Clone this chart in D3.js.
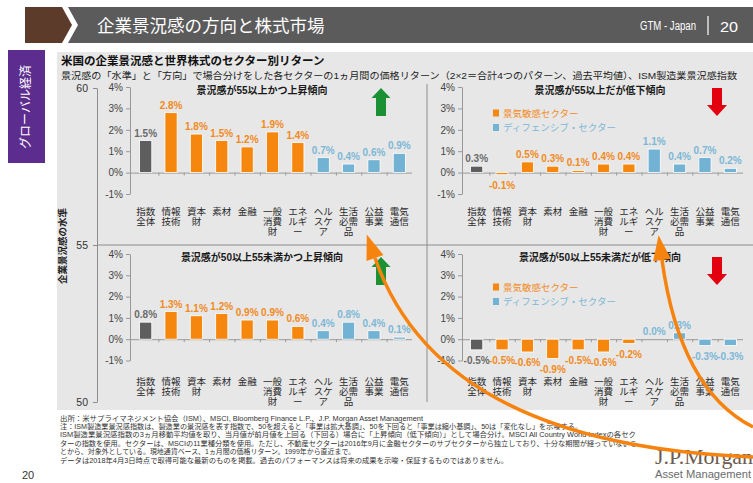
<!DOCTYPE html>
<html>
<head>
<meta charset="utf-8">
<script src="https://cdn.jsdelivr.net/npm/d3@7"></script>
<style>
  body { margin: 0; background: #fff; }
  svg { display: block; font-family: "Liberation Sans", "Noto Sans CJK JP", sans-serif; }
</style>
</head>
<body>
<div id="chart"></div>
<script>
// sectors (MSCI 11 sector split, real estate excluded)
const sectors = ["指数全体", "情報技術", "資本財", "素材", "金融", "一般消費財", "エネルギー", "ヘルスケア", "生活必需品", "公益事業", "電気通信"];
const sectorType = ["index", "cyc", "cyc", "cyc", "cyc", "cyc", "cyc", "def", "def", "def", "def"];

// average 1m returns (%) per ISM regime
const highRising  = [1.5, 2.8, 1.8, 1.5, 1.2, 1.9, 1.4, 0.7, 0.4, 0.6, 0.9];
const highFalling = [0.3, -0.1, 0.5, 0.3, 0.1, 0.4, 0.4, 1.1, 0.4, 0.7, 0.2];
const midRising   = [0.8, 1.3, 1.1, 1.2, 0.9, 0.9, 0.6, 0.4, 0.8, 0.4, 0.1];
const midFalling  = [-0.5, -0.5, -0.6, -0.9, -0.5, -0.6, -0.2, 0.0, 0.3, -0.3, -0.3];

const panelTitles = ["景況感が55以上かつ上昇傾向", "景況感が55以上だが低下傾向", "景況感が50以上55未満かつ上昇傾向", "景況感が50以上55未満だが低下傾向"];
const returnTicks = [-1, 0, 1, 2, 3, 4];
const levelTicks = [50, 55, 60];
const legendLabels = ["景気敏感セクター", "ディフェンシブ・セクター"];

const footNotes = [
  "出所：米サプライマネジメント協会（ISM）、MSCI, Bloomberg Finance L.P.、J.P. Morgan Asset Management",
  "注：ISM製造業景況感指数は、製造業の景況感を表す指数で、50を超えると「事業は拡大基調」、50を下回ると「事業は縮小基調」、50は「変化なし」を示唆する。",
  "ISM製造業景況感指数の3ヵ月移動平均値を取り、当月値が前月値を上回る（下回る）場合に「上昇傾向（低下傾向）」として場合分け。MSCI All Country World Indexの各セク",
  "ターの指数を使用。セクターは、MSCIの11業種分類を使用。ただし、不動産セクターは2016年9月に金融セクターのサブセクターから独立しており、十分な期間が経っていないこ",
  "とから、対象外としている。現地通貨ベース、1ヵ月間の価格リターン。1999年から直近まで。",
  "データは2018年4月3日時点で取得可能な最新のものを掲載。過去のパフォーマンスは将来の成果を示唆・保証するものではありません。"
];

const W = 753, H = 483;
const barColor = {index: "#5e5e5e", cyc: "#f5870e", def: "#72b2d3"};
const labelColor = {index: "#6a6a6a", cyc: "#f28a1c", def: "#7cb7d6"};

const svg = d3.select("#chart").append("svg")
    .attr("width", W)
    .attr("height", H);

// header bar
svg.append("path")
    .attr("d", "M25,7 L62,7 L72,25 L62,43 L25,43 Z")
    .attr("fill", "#5d3b2b");
svg.append("path")
    .attr("d", "M68,7 L753,7 L753,43 L68,43 L78,25 Z")
    .attr("fill", "#5b5b5b");
svg.append("text")
    .attr("x", 97).attr("y", 32)
    .attr("font-size", 17.5)
    .attr("fill", "#fff")
    .text("企業景況感の方向と株式市場");
svg.append("text")
    .attr("x", 640).attr("y", 30)
    .attr("font-size", 12)
    .attr("fill", "#fff")
    .attr("textLength", 56).attr("lengthAdjust", "spacingAndGlyphs")
    .text("GTM - Japan");
svg.append("line")
    .attr("x1", 708).attr("x2", 708).attr("y1", 16).attr("y2", 35)
    .attr("stroke", "#fff").attr("stroke-width", 1.2);
svg.append("text")
    .attr("x", 720).attr("y", 31.5)
    .attr("font-size", 15.5)
    .attr("fill", "#fff")
    .attr("textLength", 18).attr("lengthAdjust", "spacingAndGlyphs")
    .text("20");

// side tab
svg.append("rect")
    .attr("x", 8).attr("y", 50).attr("width", 37).attr("height", 113)
    .attr("fill", "#5c2d8f");
svg.append("text")
    .attr("transform", "translate(30,107) rotate(-90)")
    .attr("text-anchor", "middle")
    .attr("font-size", 12)
    .attr("fill", "#fff")
    .text("グローバル経済");

// chart background
svg.append("rect")
    .attr("x", 57).attr("y", 52).attr("width", W - 57).attr("height", 358)
    .attr("fill", "#e7e7e7");

svg.append("text")
    .attr("x", 61).attr("y", 65)
    .attr("font-size", 11.5).attr("font-weight", "bold")
    .attr("fill", "#111")
    .text("米国の企業景況感と世界株式のセクター別リターン");
svg.append("text")
    .attr("x", 61).attr("y", 79)
    .attr("font-size", 9.5)
    .attr("fill", "#222")
    .attr("textLength", 676).attr("lengthAdjust", "spacingAndGlyphs")
    .text("景況感の「水準」と「方向」で場合分けをした各セクターの1ヵ月間の価格リターン（2×2＝合計4つのパターン、過去平均値）、ISM製造業景況感指数");

// outer ISM level axis
const level = d3.scaleLinear().domain([50, 60]).range([402, 88]);
const levelAxis = svg.append("g")
    .attr("transform", "translate(97,0)")
    .call(d3.axisLeft(level).tickValues(levelTicks).tickSize(4).tickPadding(5).tickSizeOuter(0));
levelAxis.select(".domain").attr("stroke", "#8c8c8c");
levelAxis.selectAll(".tick line").attr("stroke", "#8c8c8c");
levelAxis.selectAll(".tick text").attr("font-size", 10.5).attr("fill", "#333").attr("font-family", null);

svg.append("text")
    .attr("transform", "translate(66,246) rotate(-90)")
    .attr("text-anchor", "middle")
    .attr("font-size", 9.5).attr("font-weight", "bold")
    .attr("fill", "#222")
    .text("企業景況感の水準");

// quadrant dividers
svg.append("line")
    .attr("x1", 97).attr("x2", W).attr("y1", level(55)).attr("y2", level(55))
    .attr("stroke", "#8c8c8c");
svg.append("line")
    .attr("x1", 427).attr("x2", 427).attr("y1", 84).attr("y2", 402)
    .attr("stroke", "#8c8c8c");

const panels = [
  {values: highRising,  title: panelTitles[0], axisX: 130, band: [133, 412], yr: [194, 87],    titleX: 262, catY: 215, arrow: "up",   arrowX: 381, arrowY: 88,  legend: false},
  {values: highFalling, title: panelTitles[1], axisX: 462, band: [464, 743], yr: [194, 87],    titleX: 600, catY: 215, arrow: "down", arrowX: 717, arrowY: 88,  legend: true, legendY: 113},
  {values: midRising,   title: panelTitles[2], axisX: 130, band: [133, 412], yr: [360.5, 254], titleX: 262, catY: 385, arrow: "up",   arrowX: 381, arrowY: 257, legend: false},
  {values: midFalling,  title: panelTitles[3], axisX: 462, band: [464, 743], yr: [360.5, 254], titleX: 600, catY: 385, arrow: "down", arrowX: 717, arrowY: 257, legend: true, legendY: 287}
];

function blockArrow(cx, top, dir) {
  if (dir === "up") {
    return `M${cx},${top} L${cx + 9.5},${top + 10} L${cx + 5},${top + 10} L${cx + 5},${top + 28} L${cx - 5},${top + 28} L${cx - 5},${top + 10} L${cx - 9.5},${top + 10} Z`;
  }
  return `M${cx - 5},${top} L${cx + 5},${top} L${cx + 5},${top + 17} L${cx + 10},${top + 17} L${cx},${top + 28} L${cx - 10},${top + 17} L${cx - 5},${top + 17} Z`;
}

panels.forEach(p => {
  const g = svg.append("g");
  const data = sectors.map((s, i) => ({name: s, type: sectorType[i], value: p.values[i]}));

  const x = d3.scaleBand().domain(sectors).range(p.band).paddingInner(0.52).paddingOuter(0.26);
  const y = d3.scaleLinear().domain([-1, 4]).range(p.yr);

  // y axis
  const ya = g.append("g")
      .attr("transform", `translate(${p.axisX},0)`)
      .call(d3.axisLeft(y).tickValues(returnTicks).tickFormat(d => d + "%").tickSize(4).tickPadding(3).tickSizeOuter(0));
  ya.select(".domain").attr("stroke", "#999");
  ya.selectAll(".tick line").attr("stroke", "#999");
  ya.selectAll(".tick text").attr("font-size", 10).attr("fill", "#444").attr("font-family", null);

  // zero line with small ticks between categories
  const edge = d3.scaleLinear().domain([0, sectors.length]).range(p.band);
  const za = g.append("g")
      .attr("transform", `translate(0,${y(0)})`)
      .call(d3.axisBottom(edge).tickValues(d3.range(1, sectors.length)).tickFormat("").tickSize(3).tickSizeOuter(0));
  za.select(".domain").attr("stroke", "#999").attr("d", `M${p.axisX},0.5H${p.band[1]}`);
  za.selectAll(".tick line").attr("stroke", "#999");

  // bars
  g.selectAll("rect.bar")
    .data(data)
    .join("rect")
      .attr("class", "bar")
      .attr("x", d => x(d.name))
      .attr("width", x.bandwidth())
      .attr("y", d => y(Math.max(0, d.value)))
      .attr("height", d => Math.abs(y(d.value) - y(0)))
      .attr("fill", d => barColor[d.type])
      .attr("stroke", "#fff")
      .attr("stroke-width", 0.8);

  // value labels
  g.selectAll("text.val")
    .data(data)
    .join("text")
      .attr("class", "val")
      .attr("x", d => x(d.name) + x.bandwidth() / 2)
      .attr("y", d => d.value < 0 ? y(d.value) + 14.5 : y(d.value) - 4)
      .attr("text-anchor", "middle")
      .attr("font-size", 10).attr("font-weight", "bold")
      .attr("fill", d => labelColor[d.type])
      .text(d => d.value.toFixed(1) + "%");

  // category labels, two characters per line
  const cat = g.selectAll("text.cat")
    .data(data)
    .join("text")
      .attr("class", "cat")
      .attr("x", d => x(d.name) + x.bandwidth() / 2)
      .attr("y", p.catY)
      .attr("text-anchor", "middle")
      .attr("font-size", 9.5)
      .attr("fill", "#2a2a2a");
  cat.selectAll("tspan")
    .data(d => d.name.match(/.{1,2}/g).map(t => ({t, cx: x(d.name) + x.bandwidth() / 2})))
    .join("tspan")
      .attr("x", d => d.cx)
      .attr("dy", (d, i) => i === 0 ? 0 : 10)
      .text(d => d.t);

  // panel title
  g.append("text")
      .attr("x", p.titleX).attr("y", p.yr[1] + 6.5)
      .attr("text-anchor", "middle")
      .attr("font-size", 10).attr("font-weight", "bold")
      .attr("fill", "#1a1a1a")
      .text(p.title);

  // direction arrow
  g.append("path")
      .attr("d", blockArrow(p.arrowX, p.arrowY, p.arrow))
      .attr("fill", p.arrow === "up" ? "#1b9134" : "#e3000f");

  // legend
  if (p.legend) {
    const lg = g.append("g").attr("transform", `translate(493,${p.legendY})`);
    const items = [{label: legendLabels[0], type: "cyc"}, {label: legendLabels[1], type: "def"}];
    items.forEach((it, i) => {
      lg.append("rect")
          .attr("x", 0).attr("y", i * 14.5 - 3.5)
          .attr("width", 6).attr("height", 7)
          .attr("fill", barColor[it.type]);
      lg.append("text")
          .attr("x", 10).attr("y", i * 14.5 + 3.5)
          .attr("font-size", 9.5)
          .attr("fill", labelColor[it.type])
          .text(it.label);
    });
  }
});

// footnotes
const footWidths = [363, 522, 576, 577, 295, 448];
svg.append("g")
  .selectAll("text")
  .data(footNotes)
  .join("text")
    .attr("x", 60)
    .attr("y", (d, i) => 420.5 + i * 8.4)
    .attr("font-size", 7)
    .attr("fill", "#333")
    .attr("textLength", (d, i) => footWidths[i])
    .attr("lengthAdjust", "spacingAndGlyphs")
    .text(d => d);

svg.append("text")
    .attr("x", 22).attr("y", 479)
    .attr("font-size", 11)
    .attr("fill", "#333")
    .text("20");

// logo
svg.append("text")
    .attr("x", 655).attr("y", 464)
    .attr("font-family", "Liberation Serif, serif")
    .attr("font-size", 21)
    .attr("fill", "#6c5b50")
    .attr("textLength", 98).attr("lengthAdjust", "spacingAndGlyphs")
    .text("J.P.Morgan");
svg.append("text")
    .attr("x", 655).attr("y", 478)
    .attr("font-size", 11)
    .attr("fill", "#6a6a6a")
    .attr("textLength", 96).attr("lengthAdjust", "spacingAndGlyphs")
    .text("Asset Management");

// orange curved arrows pointing from the falling regimes to the rising ones
const curves = [
  {start: [753, 457], ctrl: [440, 445], end: [375, 258]},
  {start: [753, 427], ctrl: [680, 390], end: [662, 260]}
];
curves.forEach(c => {
  const path = d3.path();
  path.moveTo(...c.start);
  path.quadraticCurveTo(...c.ctrl, ...c.end);
  svg.append("path")
      .attr("d", path.toString())
      .attr("fill", "none")
      .attr("stroke", "#f7830f")
      .attr("stroke-width", 3.5);
  const dx = c.end[0] - c.ctrl[0], dy = c.end[1] - c.ctrl[1];
  const len = Math.hypot(dx, dy);
  const ux = dx / len, uy = dy / len;
  const tip = [c.end[0] + ux * 25, c.end[1] + uy * 25];
  const hw = 9;
  svg.append("path")
      .attr("d", `M${tip[0]},${tip[1]} L${c.end[0] - uy * hw},${c.end[1] + ux * hw} L${c.end[0] + uy * hw},${c.end[1] - ux * hw} Z`)
      .attr("fill", "#f7830f");
});
</script>
</body>
</html>
